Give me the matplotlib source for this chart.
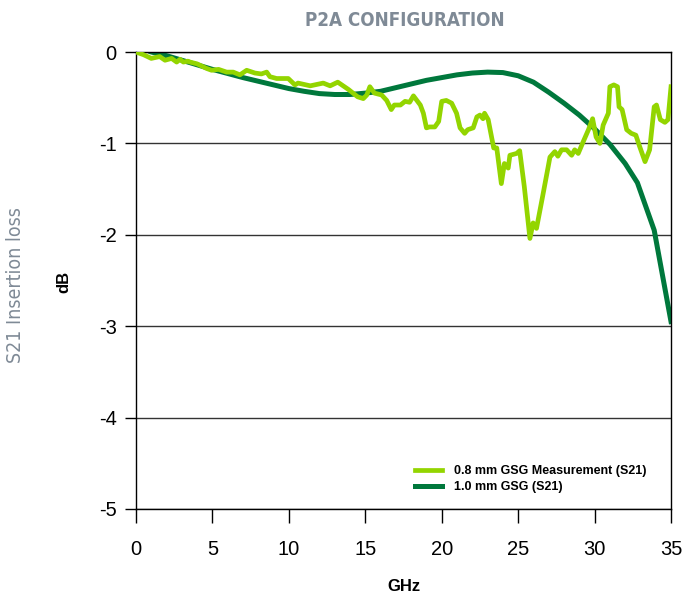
import matplotlib
matplotlib.use('Agg')
import matplotlib.pyplot as plt

plt.rcParams['axes.unicode_minus'] = False

meas_ghz = [0.0, 0.5, 1.0, 1.55, 1.9, 2.33, 2.66, 2.88, 3.1, 3.4, 3.53, 4.0, 4.62, 4.95,
            5.4, 5.93, 6.36, 6.8, 7.24, 7.78, 8.2, 8.55, 8.76, 9.2, 9.96, 10.4, 10.6,
            11.4, 12.25, 12.7, 13.2, 13.9, 14.5, 14.87, 15.1, 15.3, 15.6, 16.07, 16.4,
            16.7, 16.9, 17.3, 17.6, 17.9, 18.15, 18.6, 18.8, 19.0, 19.2, 19.55, 19.8,
            20.0, 20.3, 20.65, 20.97, 21.2, 21.5, 21.7, 22.06, 22.3, 22.5, 22.7, 22.8,
            23.04, 23.4, 23.6, 23.9, 24.1, 24.35, 24.46, 24.9, 25.1, 25.4, 25.77, 25.98,
            26.2, 26.6, 26.97, 27.08, 27.4, 27.6, 27.84, 28.17, 28.5, 28.7, 28.93, 29.26,
            29.6, 29.87, 30.1, 30.35, 30.56, 30.9, 31.0, 31.26, 31.5, 31.6, 31.8, 32.1,
            32.4, 32.7, 32.96, 33.3, 33.6, 33.9, 34.05, 34.3, 34.6, 34.8, 35.0]
meas_db = [0.0, -0.03, -0.07, -0.05, -0.09, -0.07, -0.11, -0.08, -0.11, -0.10, -0.11, -0.13,
           -0.18, -0.20, -0.19, -0.22, -0.22, -0.25, -0.20, -0.23, -0.24, -0.22, -0.27,
           -0.29, -0.29, -0.36, -0.34, -0.37, -0.34, -0.37, -0.33, -0.41, -0.49, -0.51,
           -0.47, -0.38, -0.45, -0.47, -0.53, -0.63, -0.58, -0.58, -0.54, -0.55, -0.48,
           -0.58, -0.67, -0.83, -0.82, -0.82, -0.76, -0.54, -0.53, -0.56, -0.67, -0.83,
           -0.89, -0.85, -0.83, -0.71, -0.69, -0.73, -0.67, -0.74, -1.05, -1.05, -1.44,
           -1.22, -1.27, -1.13, -1.11, -1.08, -1.47, -2.04, -1.87, -1.93, -1.58, -1.25,
           -1.15, -1.09, -1.14, -1.07, -1.07, -1.13, -1.07, -1.11, -0.98, -0.85, -0.73,
           -0.93, -1.00, -0.80, -0.67, -0.38, -0.36, -0.38, -0.60, -0.63, -0.85, -0.89,
           -0.91, -1.04, -1.20, -1.07, -0.60, -0.58, -0.74, -0.77, -0.74, -0.38]

# 1.0 mm GSG (S21)
sim_ghz = [1, 2, 3, 4, 5, 6, 7, 8, 9, 10, 11, 12, 13, 14, 15, 16, 17, 18, 19, 20, 21, 22,
           23, 24, 25, 26, 27, 28, 29, 30, 31, 32, 32.8, 33.9, 35]
sim_db = [0.0, -0.04, -0.09, -0.14, -0.19, -0.235, -0.28, -0.32, -0.36, -0.40, -0.43,
          -0.455, -0.465, -0.465, -0.45, -0.43, -0.39, -0.35, -0.31, -0.28, -0.25, -0.23,
          -0.22, -0.225, -0.26, -0.33, -0.44, -0.56, -0.69, -0.84, -1.01, -1.22, -1.43,
          -1.95, -2.95]

light = '#93d500'
dark = '#00783c'
gray = '#7f8a96'

fig = plt.figure(figsize=(6.82, 5.93), dpi=100)
ax = fig.add_axes([0.1994, 0.1417, 0.7845, 0.7706])

ax.plot(meas_ghz, meas_db, color=light, lw=3.4, label='0.8 mm GSG Measurement (S21)',
        solid_joinstyle='round', zorder=3)
ax.plot(sim_ghz, sim_db, color=dark, lw=3.6, label='1.0 mm GSG (S21)', zorder=2)

ax.set_xlim(0, 35)
ax.set_ylim(-5, 0)
ax.set_xticks(range(0, 36, 5))
ax.set_yticks(range(-5, 1))
ax.yaxis.grid(True, color='#333333', lw=1.0)
ax.set_axisbelow(True)
for s in ax.spines.values():
    s.set_color('black')
    s.set_linewidth(1.0)

ax.tick_params(axis='x', direction='out', length=10, width=1, pad=12,
               labelsize=14.5, colors='black')
ax.tick_params(axis='y', direction='out', length=8, width=1, pad=6,
               labelsize=14.5, colors='black')
for lab in ax.get_xticklabels() + ax.get_yticklabels():
    lab.set_family('Liberation Sans')

ax.set_xlabel('GHz', fontsize=12, fontweight='bold', family='Liberation Sans', labelpad=15)
fig.text(0.093, 0.525, 'dB', rotation=90, fontsize=12, fontweight='bold',
         family='Liberation Sans', ha='center', va='center')
fig.text(0.022, 0.519, 'S21 Insertion loss', rotation=90, fontsize=14, color=gray,
         family=['Liberation Sans Narrow', 'DejaVu Sans'], stretch='condensed',
         ha='center', va='center')
fig.text(0.594, 0.965, 'P2A CONFIGURATION', fontsize=13.5, fontweight='bold', color=gray,
         family=['Liberation Sans Narrow', 'DejaVu Sans'], stretch='condensed',
         ha='center', va='center')

leg = ax.legend(loc='upper left', bbox_to_anchor=(0.5, 0.12), frameon=False,
                handlelength=2.2, handletextpad=0.9, labelspacing=0.3,
                prop={'family': 'Liberation Sans', 'weight': 'bold', 'size': 9})

fig.savefig('out.png', dpi=100)
